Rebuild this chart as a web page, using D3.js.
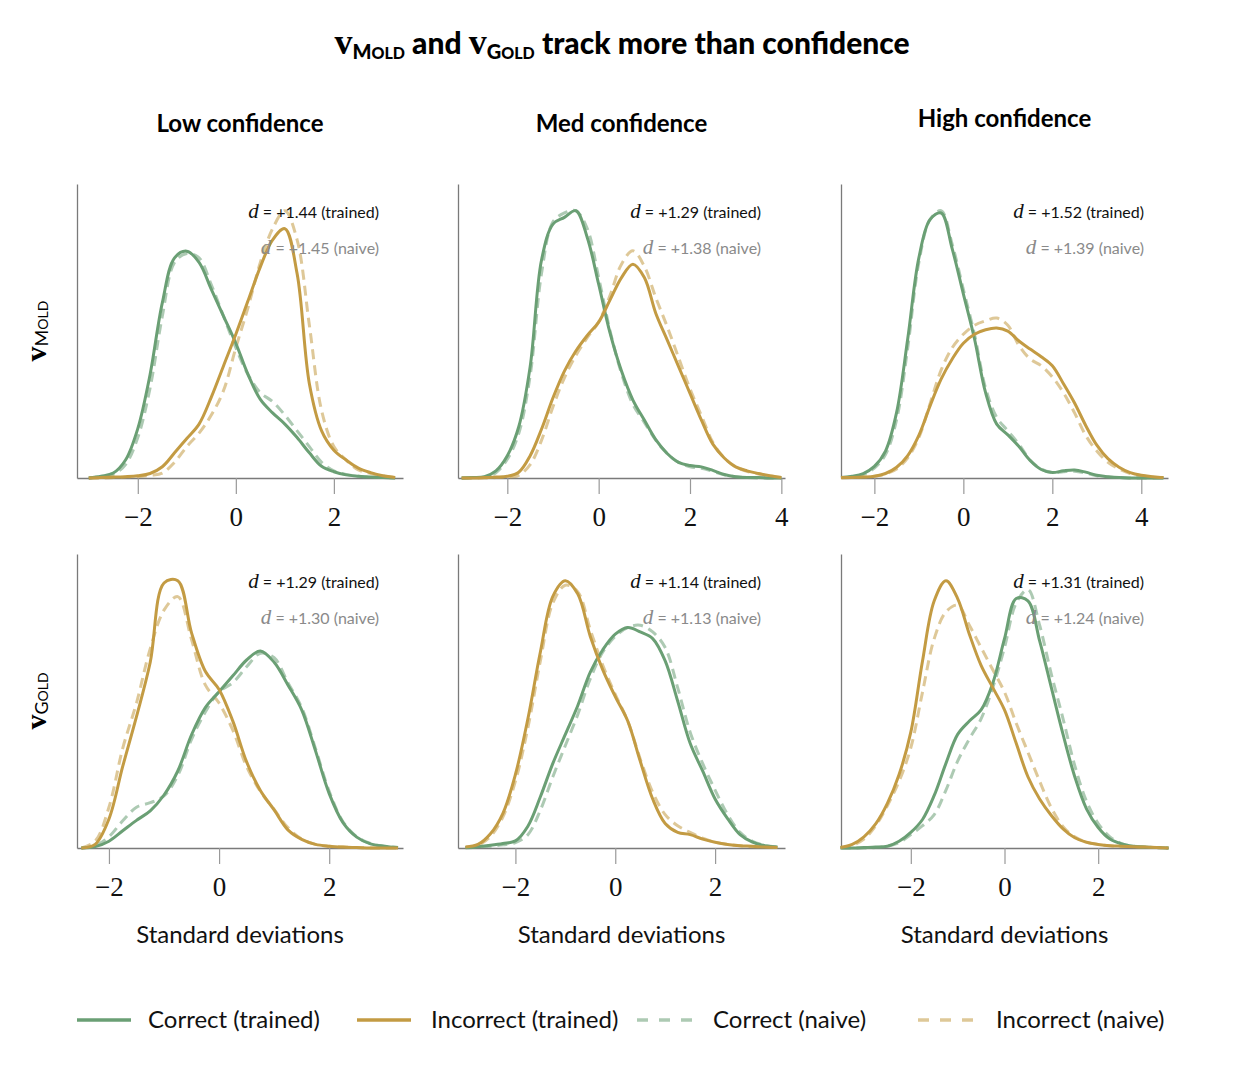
<!DOCTYPE html>
<html>
<head>
<meta charset="utf-8">
<script src="https://cdn.jsdelivr.net/npm/d3@7"></script>
<style>
  body { margin: 0; background: #fff; }
  text { font-family: Lato, "Open Sans", sans-serif; }
</style>
</head>
<body>
<div class="canvas"></div>
<script>
// ---- data (density curves) ----
const rowNames = ["MOLD", "GOLD"];
const colNames = ["Low confidence", "Med confidence", "High confidence"];
const legendLabels = ["Correct (trained)", "Incorrect (trained)", "Correct (naive)", "Incorrect (naive)"];

const trainedD = ["+1.44", "+1.29", "+1.52", "+1.29", "+1.14", "+1.31"];
const naiveD   = ["+1.45", "+1.38", "+1.39", "+1.30", "+1.13", "+1.24"];

const xDomains = [[-3.24, 3.41], [-3.08, 4.08], [-2.75, 4.6], [-2.58, 3.34], [-3.15, 3.4], [-3.49, 3.49]];
const xTicks = [[-2, 0, 2], [-2, 0, 2, 4], [-2, 0, 2, 4], [-2, 0, 2], [-2, 0, 2], [-2, 0, 2]];

// v_MOLD, low confidence
const moldLowX = [-3,-2.75,-2.5,-2.25,-2,-1.75,-1.5,-1.25,-1,-0.75,-0.5,-0.25,0,0.25,0.5,0.75,1,1.25,1.5,1.75,2,2.25,2.5,2.75,3,3.25];
const moldLowCorrect = [0,0.004,0.011,0.04,0.11,0.23,0.39,0.49,0.505,0.48,0.42,0.36,0.30,0.23,0.175,0.145,0.12,0.09,0.056,0.026,0.014,0.007,0.004,0.002,0.001,0];
const moldLowIncorrect = [0,0.001,0.002,0.003,0.005,0.01,0.025,0.056,0.088,0.12,0.18,0.25,0.32,0.395,0.47,0.53,0.555,0.455,0.21,0.105,0.062,0.04,0.022,0.012,0.005,0.001];
const moldLowCorrectNaive = [0,0.003,0.008,0.03,0.09,0.2,0.36,0.48,0.5,0.49,0.43,0.36,0.29,0.23,0.19,0.17,0.14,0.105,0.07,0.035,0.016,0.008,0.004,0.002,0.001,0];
const moldLowIncorrectNaive = [0,0,0.001,0.002,0.003,0.006,0.011,0.035,0.07,0.1,0.14,0.195,0.29,0.38,0.48,0.555,0.595,0.53,0.34,0.15,0.07,0.04,0.018,0.01,0.005,0.001];

// v_MOLD, med confidence
const moldMedX = [-3,-2.75,-2.5,-2.25,-2,-1.75,-1.5,-1.25,-1,-0.75,-0.5,-0.25,0,0.25,0.5,0.75,1,1.25,1.5,1.75,2,2.25,2.5,2.75,3,3.25,3.5,3.75,4];
const moldMedCorrect = [0,0.001,0.003,0.016,0.05,0.115,0.25,0.49,0.57,0.585,0.6,0.54,0.435,0.325,0.24,0.175,0.13,0.086,0.055,0.035,0.028,0.025,0.017,0.008,0.003,0.001,0.001,0,0];
const moldMedIncorrect = [0,0,0.001,0.002,0.004,0.013,0.05,0.11,0.18,0.24,0.285,0.32,0.35,0.4,0.45,0.48,0.45,0.37,0.31,0.25,0.19,0.13,0.076,0.045,0.025,0.016,0.01,0.005,0.001];
const moldMedCorrectNaive = [0,0.001,0.002,0.012,0.042,0.1,0.23,0.46,0.575,0.595,0.6,0.56,0.45,0.33,0.235,0.165,0.125,0.085,0.055,0.035,0.025,0.022,0.015,0.007,0.003,0.001,0,0,0];
const moldMedIncorrectNaive = [0,0,0,0.001,0.002,0.006,0.03,0.085,0.16,0.225,0.275,0.315,0.35,0.41,0.48,0.51,0.475,0.405,0.34,0.27,0.2,0.14,0.08,0.045,0.025,0.015,0.009,0.004,0.001];

// v_MOLD, high confidence
const moldHighX = [-2.75,-2.5,-2.25,-2,-1.75,-1.5,-1.25,-1,-0.75,-0.5,-0.25,0,0.25,0.5,0.75,1,1.25,1.5,1.75,2,2.25,2.5,2.75,3,3.25,3.5,3.75,4,4.25,4.5];
const moldHighCorrect = [0.001,0.004,0.01,0.026,0.06,0.146,0.31,0.49,0.575,0.59,0.51,0.41,0.31,0.19,0.12,0.096,0.07,0.039,0.019,0.012,0.016,0.018,0.013,0.006,0.003,0.001,0,0,0,0];
const moldHighIncorrect = [0.001,0.001,0.002,0.004,0.01,0.024,0.05,0.095,0.16,0.22,0.265,0.3,0.32,0.33,0.334,0.327,0.305,0.287,0.27,0.25,0.21,0.167,0.117,0.073,0.043,0.024,0.012,0.006,0.003,0.001];
const moldHighCorrectNaive = [0.001,0.003,0.008,0.022,0.052,0.13,0.29,0.48,0.575,0.595,0.52,0.42,0.32,0.2,0.135,0.105,0.075,0.04,0.02,0.012,0.014,0.015,0.011,0.005,0.002,0.001,0,0,0,0];
const moldHighIncorrectNaive = [0,0.001,0.002,0.004,0.009,0.02,0.045,0.09,0.165,0.24,0.29,0.32,0.34,0.35,0.356,0.34,0.295,0.265,0.25,0.225,0.19,0.145,0.095,0.06,0.035,0.02,0.01,0.005,0.002,0.001];

// v_GOLD, low confidence
const goldLowX = [-2.5,-2.25,-2,-1.75,-1.5,-1.25,-1,-0.75,-0.5,-0.25,0,0.25,0.5,0.75,1,1.25,1.5,1.75,2,2.25,2.5,2.75,3,3.25];
const goldLowCorrect = [0,0.003,0.015,0.038,0.061,0.082,0.117,0.17,0.25,0.31,0.345,0.38,0.415,0.435,0.41,0.36,0.305,0.215,0.12,0.056,0.024,0.009,0.004,0.001];
const goldLowIncorrect = [0,0.008,0.064,0.18,0.29,0.41,0.585,0.59,0.475,0.39,0.35,0.28,0.19,0.127,0.084,0.04,0.019,0.008,0.004,0.002,0.001,0,0,0];
const goldLowCorrectNaive = [0,0.005,0.025,0.06,0.09,0.1,0.115,0.16,0.24,0.3,0.345,0.365,0.4,0.43,0.42,0.365,0.31,0.22,0.125,0.058,0.025,0.01,0.004,0.001];
const goldLowIncorrectNaive = [0,0.015,0.09,0.22,0.32,0.44,0.525,0.555,0.46,0.36,0.32,0.26,0.18,0.125,0.085,0.045,0.02,0.008,0.004,0.002,0.001,0,0,0];

// v_GOLD, med confidence
const goldMedX = [-3,-2.75,-2.5,-2.25,-2,-1.75,-1.5,-1.25,-1,-0.75,-0.5,-0.25,0,0.25,0.5,0.75,1,1.25,1.5,1.75,2,2.25,2.5,2.75,3,3.25];
const goldMedCorrect = [0.001,0.003,0.006,0.01,0.016,0.049,0.115,0.19,0.255,0.32,0.395,0.445,0.48,0.495,0.485,0.47,0.42,0.33,0.235,0.173,0.11,0.066,0.03,0.013,0.005,0.002];
const goldMedIncorrect = [0.002,0.008,0.032,0.078,0.165,0.29,0.44,0.565,0.6,0.57,0.475,0.4,0.34,0.285,0.195,0.11,0.055,0.035,0.03,0.02,0.013,0.008,0.005,0.004,0.002,0.001];
const goldMedCorrectNaive = [0,0.002,0.004,0.007,0.012,0.03,0.085,0.16,0.23,0.3,0.38,0.44,0.475,0.495,0.5,0.485,0.45,0.36,0.26,0.19,0.13,0.075,0.035,0.015,0.006,0.002];
const goldMedIncorrectNaive = [0.001,0.006,0.026,0.07,0.15,0.27,0.42,0.55,0.59,0.575,0.49,0.41,0.345,0.285,0.2,0.125,0.075,0.05,0.035,0.022,0.013,0.008,0.005,0.003,0.002,0.001];

// v_GOLD, high confidence
const goldHighX = [-3.5,-3.25,-3,-2.75,-2.5,-2.25,-2,-1.75,-1.5,-1.25,-1,-0.75,-0.5,-0.25,0,0.25,0.5,0.75,1,1.25,1.5,1.75,2,2.25,2.5,2.75,3,3.25,3.5];
const goldHighCorrect = [0,0,0.001,0.002,0.004,0.015,0.035,0.064,0.118,0.19,0.255,0.285,0.31,0.37,0.47,0.56,0.555,0.465,0.36,0.255,0.16,0.088,0.046,0.02,0.009,0.004,0.002,0.001,0];
const goldHighIncorrect = [0.001,0.008,0.025,0.054,0.1,0.165,0.26,0.42,0.555,0.6,0.56,0.48,0.41,0.36,0.31,0.235,0.16,0.11,0.073,0.043,0.023,0.013,0.008,0.005,0.004,0.003,0.002,0.001,0];
const goldHighCorrectNaive = [0,0,0,0.001,0.004,0.012,0.03,0.05,0.075,0.13,0.195,0.245,0.29,0.36,0.45,0.55,0.58,0.5,0.39,0.29,0.185,0.105,0.055,0.025,0.01,0.004,0.002,0.001,0];
const goldHighIncorrectNaive = [0.001,0.006,0.02,0.05,0.095,0.15,0.225,0.35,0.47,0.53,0.545,0.5,0.45,0.4,0.35,0.28,0.215,0.15,0.09,0.048,0.025,0.013,0.008,0.005,0.004,0.003,0.002,0.001,0];

// panel table, built from the arrays above (row-major)
const panelData = [
  [moldLowX, moldLowCorrect, moldLowIncorrect, moldLowCorrectNaive, moldLowIncorrectNaive],
  [moldMedX, moldMedCorrect, moldMedIncorrect, moldMedCorrectNaive, moldMedIncorrectNaive],
  [moldHighX, moldHighCorrect, moldHighIncorrect, moldHighCorrectNaive, moldHighIncorrectNaive],
  [goldLowX, goldLowCorrect, goldLowIncorrect, goldLowCorrectNaive, goldLowIncorrectNaive],
  [goldMedX, goldMedCorrect, goldMedIncorrect, goldMedCorrectNaive, goldMedIncorrectNaive],
  [goldHighX, goldHighCorrect, goldHighIncorrect, goldHighCorrectNaive, goldHighIncorrectNaive]
];

// ---- layout & style ----
const green = "#6a9f74";
const gold = "#c39b43";
const axisGrey = "#7a7a7a";
const seriesStyle = [
  {color: green, dash: null, opacity: 1},
  {color: gold, dash: null, opacity: 1},
  {color: green, dash: "10,6", opacity: 0.55},
  {color: gold, dash: "10,6", opacity: 0.55}
];

const colLeft = [77, 458, 841];
const colWidth = [326, 327, 327];
const rowTop = [184, 554];
const plotH = 294;

const svg = d3.select(".canvas").append("svg")
  .attr("width", 1252)
  .attr("height", 1073);

//title
const title = svg.append("text")
  .attr("x", 622)
  .attr("y", 54)
  .attr("text-anchor", "middle")
  .style("font-weight", "900")
  .style("font-size", "30px");

function addSub(t, name, big, small, drop) {
  t.append("tspan").text("v")
    .style("font-family", "'Liberation Serif', serif")
    .style("font-weight", "bold")
    .style("font-size", big + "px");
  t.append("tspan").attr("dy", drop).text(name[0]).style("font-size", small + 4 + "px");
  t.append("tspan").text(name.slice(1)).style("font-size", small + "px");
}
addSub(title, rowNames[0], 36, 16, 5);
title.append("tspan").attr("dy", -5).text(" and ");
addSub(title, rowNames[1], 36, 16, 5);
title.append("tspan").attr("dy", -5).text(" track more than confidence");

//column titles
const colTitleY = [132, 132, 127];
colNames.forEach((c, i) => {
  svg.append("text")
    .attr("x", colLeft[i] + colWidth[i] / 2)
    .attr("y", colTitleY[i])
    .attr("text-anchor", "middle")
    .style("font-weight", "bold")
    .style("font-size", "24px")
    .text(c);
});

//row labels
rowNames.forEach((r, i) => {
  const t = svg.append("text")
    .attr("transform", `translate(46, ${rowTop[i] + plotH / 2}) rotate(-90)`)
    .attr("text-anchor", "middle")
    .style("font-size", "17px");
  t.append("tspan").text("v")
    .style("font-family", "'Liberation Serif', serif")
    .style("font-weight", "bold")
    .style("font-size", "30px");
  t.append("tspan").attr("dy", 2).text(r[0]).style("font-size", "18px");
  t.append("tspan").text(r.slice(1)).style("font-size", "14px");
});

//panels
panelData.forEach((pd, p) => {
  const row = Math.floor(p / 3), col = p % 3;
  const xs = pd[0];
  const series = pd.slice(1);

  const g = svg.append("g")
    .attr("transform", `translate(${colLeft[col]}, ${rowTop[row]})`);

  const scaleX = d3.scaleLinear().domain(xDomains[p]).range([0, colWidth[col]]);
  const yMax = d3.max(series, s => d3.max(s));
  const scaleY = d3.scaleLinear().domain([0, yMax * 1.1]).range([plotH, 0]);

  const xAxis = d3.axisBottom(scaleX)
    .tickValues(xTicks[p])
    .tickSize(16)
    .tickSizeOuter(0)
    .tickPadding(13)
    .tickFormat(d => d < 0 ? "\u2212" + Math.abs(d) : d);

  const xg = g.append("g")
    .attr("transform", `translate(0, ${plotH})`)
    .call(xAxis);
  xg.select(".domain").attr("stroke", axisGrey).attr("stroke-width", 1.3);
  xg.selectAll(".tick line").attr("stroke", "#999").attr("stroke-width", 1.2);
  xg.selectAll(".tick text")
    .style("font-family", "'Liberation Serif', 'DejaVu Serif', serif")
    .style("font-size", "27px")
    .attr("fill", "#111");

  const yg = g.append("g")
    .call(d3.axisLeft(scaleY).tickValues([]).tickSizeOuter(0));
  yg.select(".domain").attr("stroke", axisGrey).attr("stroke-width", 1.3);

  const line = d3.line()
    .x((d, i) => scaleX(xs[i]))
    .y(d => scaleY(d))
    .curve(d3.curveCatmullRom.alpha(0.5));

  // naive (dashed) first, trained on top
  [2, 3, 0, 1].forEach(k => {
    g.append("path")
      .datum(series[k])
      .attr("d", line)
      .attr("fill", "none")
      .attr("stroke", seriesStyle[k].color)
      .attr("stroke-opacity", seriesStyle[k].opacity)
      .attr("stroke-width", 3)
      .attr("stroke-dasharray", seriesStyle[k].dash)
      .attr("stroke-linejoin", "round");
  });

  //effect size labels
  const labels = [[trainedD[p], "(trained)", "#111", 34], [naiveD[p], "(naive)", "#8a8a8a", 70]];
  labels.forEach(([v, tag, c, dy]) => {
    const t = g.append("text")
      .attr("x", colWidth[col] - 24)
      .attr("y", dy)
      .attr("text-anchor", "end")
      .attr("fill", c)
      .style("font-size", "16px");
    t.append("tspan").text("d")
      .style("font-family", "'Liberation Serif', serif")
      .style("font-style", "italic")
      .style("font-size", "21px");
    t.append("tspan").text(` = ${v} ${tag}`);
  });

  if (row === 1) {
    g.append("text")
      .attr("x", colWidth[col] / 2)
      .attr("y", plotH + 95)
      .attr("text-anchor", "middle")
      .style("font-size", "24px")
      .attr("fill", "#111")
      .text("Standard deviations");
  }
});

//legend
const legendLineX = [77, 357, 637, 918];
const legendTextX = [148, 431, 713, 996];
const legendOrder = [0, 1, 2, 3];
legendOrder.forEach((k, i) => {
  const st = seriesStyle[k];
  svg.append("line")
    .attr("x1", legendLineX[i])
    .attr("x2", legendLineX[i] + (st.dash ? 60 : 54))
    .attr("y1", 1020)
    .attr("y2", 1020)
    .attr("stroke", st.color)
    .attr("stroke-opacity", st.opacity)
    .attr("stroke-width", 3.5)
    .attr("stroke-dasharray", st.dash ? "11,11" : null);
  svg.append("text")
    .attr("x", legendTextX[i])
    .attr("y", 1028)
    .style("font-size", "24px")
    .attr("fill", "#111")
    .text(legendLabels[k]);
});
</script>
</body>
</html>
